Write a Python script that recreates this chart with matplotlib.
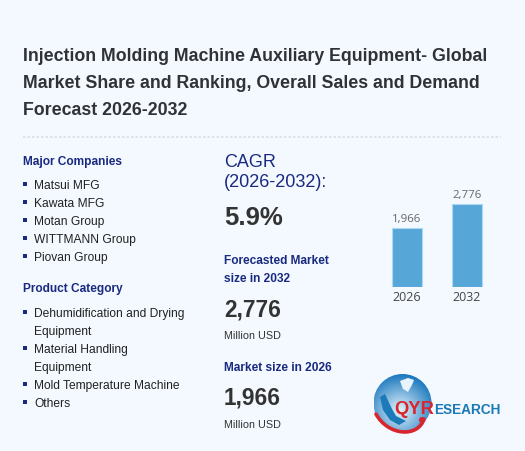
import numpy as np
import matplotlib
matplotlib.use("Agg")
import matplotlib.pyplot as plt
from matplotlib.patches import Circle, Polygon, Rectangle, PathPatch
from matplotlib.path import Path

W, H = 525, 451
BG = "#f3f9ff"
NAVY = "#1a2a80"
DARK = "#333333"

title_lines = ["Injection Molding Machine Auxiliary Equipment- Global",
               "Market Share and Ranking, Overall Sales and Demand",
               "Forecast 2026-2032"]
companies = ["Matsui MFG", "Kawata MFG", "Motan Group", "WITTMANN Group", "Piovan Group"]
products = [["Dehumidification and Drying", "Equipment"],
            ["Material Handling", "Equipment"],
            ["Mold Temperature Machine"],
            ["Others"]]
years = ["2026", "2032"]
market = [1966, 2776]

plt.rcParams["font.family"] = ["Liberation Sans", "DejaVu Sans"]
fig = plt.figure(figsize=(W / 100, H / 100), dpi=100, facecolor=BG)
bg = fig.add_axes([0, 0, 1, 1])
bg.set_xlim(0, W)
bg.set_ylim(H, 0)
bg.axis("off")


def px(size):
    return size * 72 / 100


def t(x, y, s, size, color=DARK, weight="normal", **kw):
    bg.text(x, y, s, fontsize=px(size), color=color, fontweight=weight,
            va="baseline", ha=kw.pop("ha", "left"), **kw)


for y, line in zip([61, 88, 115], title_lines):
    t(23, y, line, 17.75, color="#303236", weight="bold")
bg.plot([23, 501], [137, 137], color="#d9dfe6", lw=1.2, dashes=(1.5, 1.2))

# Left column
t(23, 165, "Major Companies", 11.9, color=NAVY, weight="bold")
y = 189
for name in companies:
    bg.add_patch(Rectangle((23, y - 7), 4, 4, color=NAVY, lw=0))
    t(34, y, name, 12, color="#222222")
    y += 18
t(23, 292, "Product Category", 11.9, color=NAVY, weight="bold")
y = 317
for item in products:
    bg.add_patch(Rectangle((23, y - 7), 4, 4, color=NAVY, lw=0))
    for line in item:
        t(34, y, line, 12, color="#222222")
        y += 18

# Middle column
t(224, 167, "CAGR", 18, color=NAVY)
t(224, 187, "(2026-2032):", 18, color=NAVY)
t(224, 225, "5.9%", 25.8, weight="bold")
t(224, 264, "Forecasted Market", 11.9, color=NAVY, weight="bold")
t(224, 282, "size in 2032", 11.9, color=NAVY, weight="bold")
t(224, 316, f"{market[1]:,}", 22.6, weight="bold")
t(224, 339, "Million USD", 10.7)
t(224, 371, "Market size in 2026", 11.9, color=NAVY, weight="bold")
t(224, 404, f"{market[0]:,}", 22.6, weight="bold")
t(224, 428, "Million USD", 10.7)

# Bar chart
ax_l, ax_r, ax_b, ax_t = 377, 497, 287, 180
ax = fig.add_axes([ax_l / W, 1 - ax_b / H, (ax_r - ax_l) / W, (ax_b - ax_t) / H])
ax.patch.set_alpha(0)
ax.set_xlim(-0.5, 1.5)
ax.set_ylim(0, 2776 * (ax_b - ax_t) / 83)
bars = ax.bar(years, market, width=0.49, color="#57a6d8", edgecolor="#a9d9f6", linewidth=0.8)
for s in ax.spines.values():
    s.set_visible(False)
ax.set_yticks([])
ax.tick_params(axis="x", length=0, pad=3.2, labelsize=px(12.5), labelcolor="#444444")
for lab in ax.get_xticklabels():
    lab.set_family("Open Sans")
labels = ax.bar_label(bars, labels=[f"{v:,}" for v in market], padding=2.5,
                      fontsize=px(11.5), color="#666666", family="Open Sans")

# Logo
cx, cy, r = 402.5, 403, 29
n = 160
xs = np.linspace(cx - r, cx + r, n)
ys = np.linspace(cy - r, cy + r, n)
X, Y = np.meshgrid(xs, ys)
d = np.hypot(X - (cx - 3), Y - (cy + 8)) / (1.3 * r)
d = np.clip(d, 0, 1)[..., None]
inner = np.array([0.90, 0.96, 0.99])
outer = np.array([0.09, 0.46, 0.74])
img = inner * (1 - d) + outer * d
im = bg.imshow(img, extent=(cx - r, cx + r, cy + r, cy - r), zorder=2, aspect="auto")
im.set_clip_path(Circle((cx, cy), r, transform=bg.transData))
bg.set_xlim(0, W)
bg.set_ylim(H, 0)
bg.add_patch(Polygon([(400, 381), (408, 378), (414, 380), (412, 385), (408, 392), (403, 389)],
                     fc="#e8f4fb", ec="none", zorder=3))
bg.add_patch(Polygon([(380, 397), (385, 394), (392, 409), (396, 416), (406, 421), (399, 425), (390, 420), (383, 410)],
                     fc="#1c7ab8", ec="none", zorder=3))
swoosh = Path([(376, 414), (388, 436), (418, 438), (424, 419)],
              [Path.MOVETO, Path.CURVE4, Path.CURVE4, Path.CURVE4])
bg.add_patch(PathPatch(swoosh, fc="none", ec="#d8262c", lw=2.6, zorder=4, capstyle="round"))
bg.add_patch(Circle((422, 420), 3, fc="#d8262c", ec="none", zorder=4))
t(394, 414, "QYR", 18.4, color="#d8262c", weight="bold", zorder=5)
t(434.5, 414, "ESEARCH", 13.6, color="#1b79b5", weight="bold", zorder=5)

fig.savefig("out.png", dpi=100, facecolor=BG)
